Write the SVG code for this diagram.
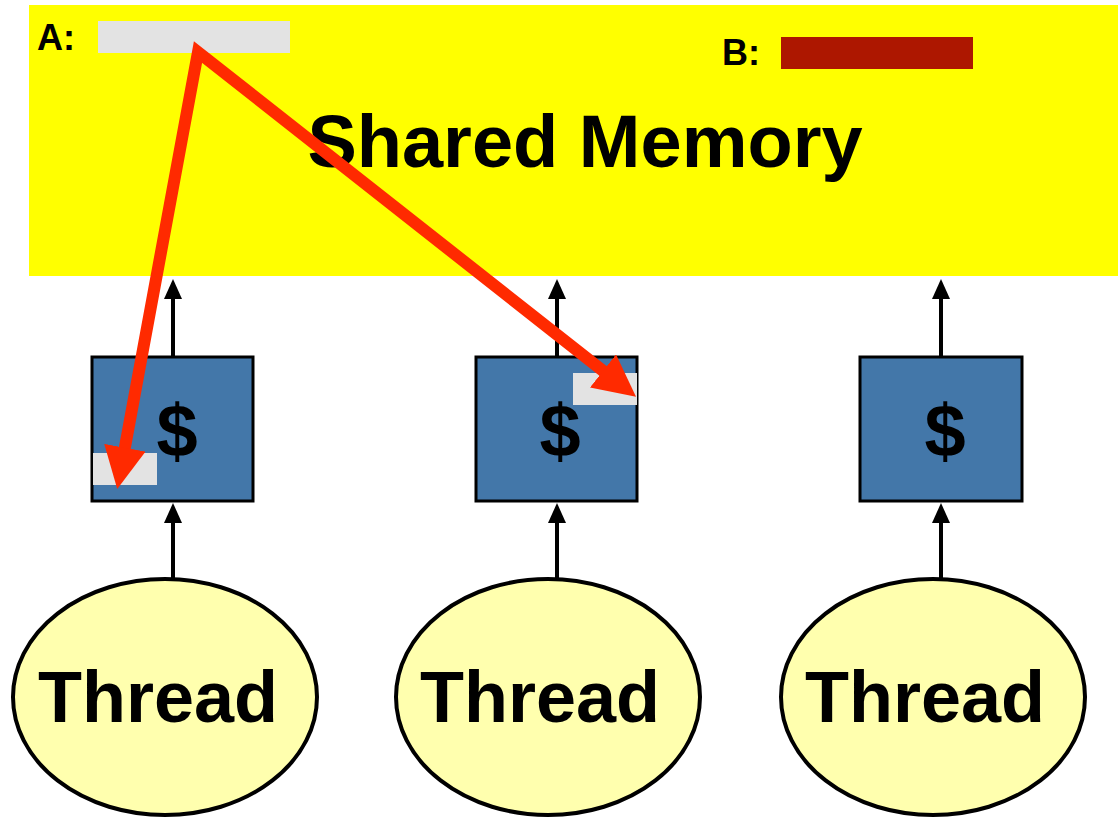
<svg xmlns="http://www.w3.org/2000/svg" width="1118" height="822" viewBox="0 0 1118 822">
<style>
.t{font-family:"Liberation Sans",Arial,sans-serif;font-weight:bold;fill:#000}
.cache{fill:#4377a9;stroke:#000;stroke-width:3}
.thread{fill:#ffffae;stroke:#000;stroke-width:4}
.wire{stroke:#000;stroke-width:4;fill:none}
.red{stroke:#ff2a00;stroke-width:12;fill:none;stroke-linejoin:miter}
.slot{fill:#e3e3e3}
</style>
<defs>
<marker id="ah" markerUnits="userSpaceOnUse" markerWidth="20" markerHeight="20" refX="2" refY="9" orient="auto" viewBox="0 0 20 18">
<path d="M0,0 L20,9 L0,18 z" fill="#000"/>
</marker>
<marker id="rh" markerUnits="userSpaceOnUse" markerWidth="42" markerHeight="42" refX="1" refY="21" orient="auto-start-reverse" viewBox="0 0 42 42">
<path d="M0,0 L42,21 L0,42 z" fill="#ff2a00"/>
</marker>
</defs>
<g id="shared-memory">
<rect x="29" y="5" width="1089" height="271" fill="#ffff00"/>
<text class="t" x="585" y="167" font-size="74" text-anchor="middle">Shared Memory</text>
<text class="t" x="37" y="50" font-size="36">A:</text>
<rect class="slot" x="98" y="21" width="192" height="32"/>
<text class="t" x="722" y="65" font-size="36">B:</text>
<rect x="781" y="37" width="192" height="32" fill="#ad1700"/>
</g>
<g id="cache1">
<rect class="cache" x="92" y="357" width="161" height="144"/>
<text class="t" x="177" y="456" font-size="74" text-anchor="middle">$</text>
<rect class="slot" x="93" y="453" width="64" height="32"/>
</g>
<g id="cache2">
<rect class="cache" x="476" y="357" width="161" height="144"/>
<text class="t" x="560" y="456" font-size="74" text-anchor="middle">$</text>
<rect class="slot" x="573" y="373" width="64" height="32"/>
</g>
<g id="cache3">
<rect class="cache" x="860" y="357" width="162" height="144"/>
<text class="t" x="945" y="456" font-size="74" text-anchor="middle">$</text>
</g>
<g id="thread1">
<ellipse class="thread" cx="165" cy="697" rx="152" ry="118"/>
<text class="t" x="158" y="722" font-size="72" text-anchor="middle">Thread</text>
</g>
<g id="thread2">
<ellipse class="thread" cx="548" cy="697" rx="152" ry="118"/>
<text class="t" x="540" y="722" font-size="72" text-anchor="middle">Thread</text>
</g>
<g id="thread3">
<ellipse class="thread" cx="933" cy="697" rx="152" ry="118"/>
<text class="t" x="925" y="722" font-size="72" text-anchor="middle">Thread</text>
</g>
<g id="connectors">
<line class="wire" x1="173" y1="357" x2="173" y2="297" marker-end="url(#ah)"/>
<line class="wire" x1="557" y1="357" x2="557" y2="297" marker-end="url(#ah)"/>
<line class="wire" x1="941" y1="357" x2="941" y2="297" marker-end="url(#ah)"/>
<line class="wire" x1="173" y1="579" x2="173" y2="521" marker-end="url(#ah)"/>
<line class="wire" x1="557" y1="579" x2="557" y2="521" marker-end="url(#ah)"/>
<line class="wire" x1="941" y1="579" x2="941" y2="521" marker-end="url(#ah)"/>
<path class="red" d="M124.7,448.7 L198,52 L603.8,371.5" marker-start="url(#rh)" marker-end="url(#rh)"/>
</g>
</svg>
